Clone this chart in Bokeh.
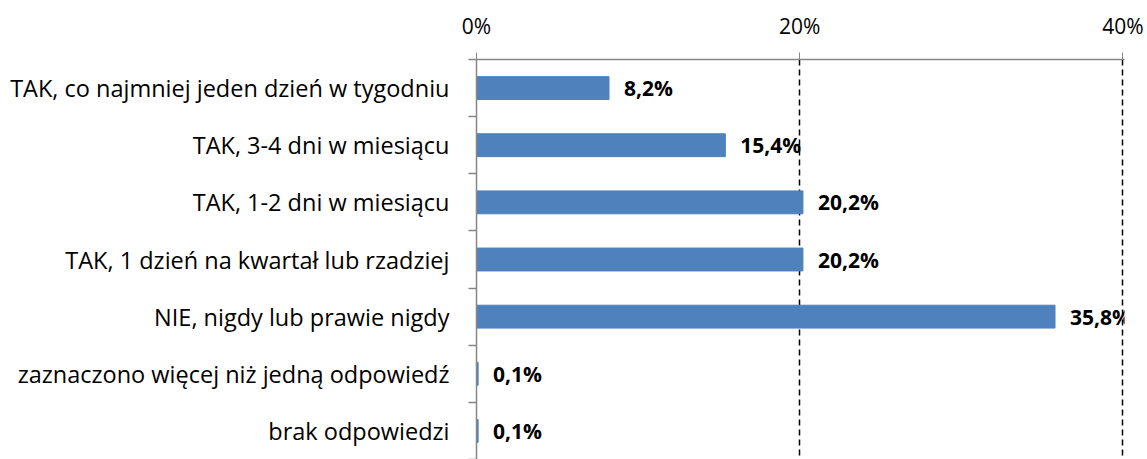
from bokeh.plotting import figure
from bokeh.models import FixedTicker, Range1d, ColumnDataSource
from bokeh.core.properties import value
from bokeh.embed import file_html
from bokeh.resources import INLINE

categories = [
    "TAK, co najmniej jeden dzień w tygodniu",
    "TAK, 3-4 dni w miesiącu",
    "TAK, 1-2 dni w miesiącu",
    "TAK, 1 dzień na kwartał lub rzadziej",
    "NIE, nigdy lub prawie nigdy",
    "zaznaczono więcej niż jedną odpowiedź",
    "brak odpowiedzi",
]
values = [8.2, 15.4, 20.2, 20.2, 35.8, 0.1, 0.1]
value_labels = ["8,2%", "15,4%", "20,2%", "20,2%", "35,8%", "0,1%", "0,1%"]
x_ticks = [0, 20, 40]
x_tick_labels = ["0%", "20%", "40%"]

n = len(categories)
pos = list(range(n))
src = ColumnDataSource(dict(y=pos, v=values, lab=value_labels))

p = figure(width=1145, height=459, output_backend="svg", toolbar_location=None,
           x_range=Range1d(0, 40.1), y_range=Range1d(n - 0.5, -0.5),
           x_axis_location="above", min_border_left=476, min_border_right=21,
           min_border_top=59, min_border_bottom=0)
p.outline_line_color = None

p.hbar(y="y", right="v", left=0, height=0.4, source=src, color="#4F81BD")
p.text(x="v", y="y", text="lab", source=src, x_offset=15,
       text_baseline="middle", text_align="left",
       text_font=value("Open Sans"), text_font_style="bold",
       text_font_size="21px", text_color="black")

xa = p.xaxis[0]
xa.ticker = FixedTicker(ticks=x_ticks)
xa.major_label_overrides = {t: l for t, l in zip(x_ticks, x_tick_labels)}
xa.axis_line_color = "#868686"
xa.axis_line_width = 1.5
xa.major_tick_line_color = "#868686"
xa.major_tick_out = 7
xa.major_tick_in = 0
xa.minor_tick_line_color = None
xa.major_label_standoff = 13
xa.major_label_text_font = "Open Sans"
xa.major_label_text_font_size = "21px"
xa.major_label_text_color = "black"

ya = p.yaxis[0]
ya.ticker = FixedTicker(ticks=pos, minor_ticks=[i - 0.5 for i in range(n + 1)])
ya.major_label_overrides = {i: c for i, c in zip(pos, categories)}
ya.axis_line_color = "#868686"
ya.axis_line_width = 1.5
ya.major_tick_line_color = None
ya.major_tick_out = 0
ya.major_tick_in = 0
ya.minor_tick_line_color = "#868686"
ya.minor_tick_line_width = 1.5
ya.minor_tick_out = 8
ya.minor_tick_in = 0
ya.major_label_standoff = 19
ya.major_label_text_font = "Open Sans"
ya.major_label_text_font_size = "23.5px"
ya.major_label_text_color = "black"

p.ygrid.grid_line_color = None
p.xgrid.ticker = FixedTicker(ticks=[20, 40])
p.xgrid.grid_line_color = "black"
p.xgrid.grid_line_dash = "6 4"
p.xgrid.grid_line_width = 1.5

open("out.html", "w").write(file_html(p, INLINE))
